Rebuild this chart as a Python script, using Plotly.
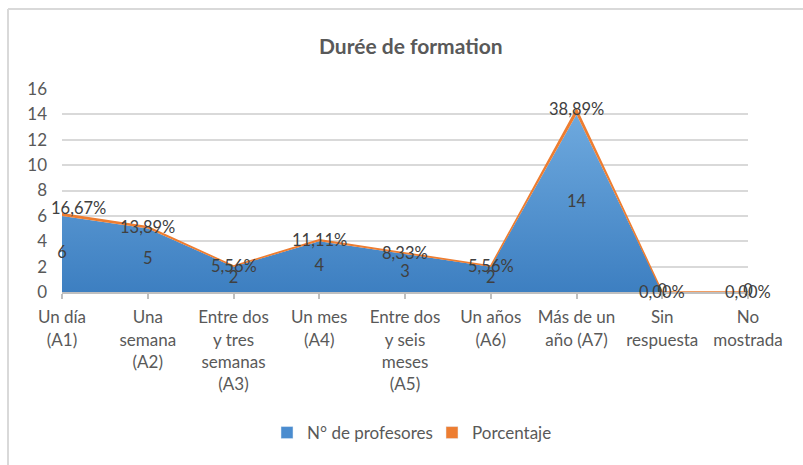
import plotly.graph_objects as go

categories = ["Un día<br>(A1)", "Una<br>semana<br>(A2)", "Entre dos<br>y tres<br>semanas<br>(A3)",
              "Un mes<br>(A4)", "Entre dos<br>y seis<br>meses<br>(A5)", "Un años<br>(A6)",
              "Más de un<br>año (A7)", "Sin<br>respuesta", "No<br>mostrada"]
profesores = [6, 5, 2, 4, 3, 2, 14, 0, 0]
porcentaje = [0.1667, 0.1389, 0.0556, 0.1111, 0.0833, 0.0556, 0.3889, 0.0, 0.0]
y_ticks = [0, 2, 4, 6, 8, 10, 12, 14, 16]

W, H = 803, 465
L, R, T, B = 62, 55, 89, 173
pw, ph = W - L - R, H - T - B

def px_x(px):
    return (px - L) / pw

def px_y(py):
    return (H - B - py) / ph

FONT = "Lato, Open Sans, sans-serif"
GREY = "#595959"
DARK = "#404040"
BLUE = "#4a8ccf"
ORANGE = "#ED7D31"

xs = list(range(len(categories)))

fig = go.Figure()
fig.add_trace(go.Scatter(
    x=xs, y=profesores, name="N° de profesores", stackgroup="s",
    mode="lines", line=dict(width=0, color=BLUE), fillcolor=BLUE,
    fillgradient=dict(type="vertical", colorscale=[[0, "#3d7fc1"], [1, "#6ea9de"]]),
    showlegend=False,
))
fig.add_trace(go.Scatter(
    x=xs, y=porcentaje, name="Porcentaje", stackgroup="s",
    mode="lines", line=dict(width=1.5, color=ORANGE), fillcolor=ORANGE,
    showlegend=False,
))
# count labels, centred in the area
fig.add_trace(go.Scatter(
    x=xs, y=[v / 2 for v in profesores], mode="text", cliponaxis=False,
    text=[str(v) for v in profesores], textposition="middle center",
    textfont=dict(family=FONT, size=16.5, color=DARK), showlegend=False, hoverinfo="skip",
))
# legend entries (square swatches)
fig.add_trace(go.Bar(x=[None], y=[None], name="N° de profesores", marker_color=BLUE))
fig.add_trace(go.Bar(x=[None], y=[None], name="Porcentaje", marker_color=ORANGE))

annotations = []
for i, (c, p) in enumerate(zip(profesores, porcentaje)):
    txt = f"{p * 100:.2f}%".replace(".", ",")
    annotations.append(dict(
        x=i, y=c + p, xref="x", yref="y", text=txt, showarrow=False,
        font=dict(family=FONT, size=16.5, color=DARK),
        xanchor="center", yanchor="middle",
        xshift=16 if i == 0 else 0, yshift=6 if i == 0 else 0,
    ))
annotations.append(dict(
    x=px_x(411), y=px_y(45), xref="paper", yref="paper", text="<b>Durée de formation</b>",
    showarrow=False, font=dict(family=FONT, size=21, color=GREY),
    xanchor="center", yanchor="middle",
))

shapes = [
    dict(type="line", xref="paper", yref="paper", x0=px_x(8), x1=px_x(803),
         y0=px_y(9), y1=px_y(9), line=dict(color="#d9d9d9", width=2)),
    dict(type="line", xref="paper", yref="paper", x0=px_x(8), x1=px_x(8),
         y0=px_y(9), y1=px_y(470), line=dict(color="#d9d9d9", width=2)),
]

fig.update_layout(
    width=W, height=H, margin=dict(l=L, r=R, t=T, b=B, autoexpand=False),
    paper_bgcolor="white", plot_bgcolor="white",
    font=dict(family=FONT, size=17, color=GREY),
    annotations=annotations, shapes=shapes,
    legend=dict(orientation="h", x=px_x(267), xanchor="left", y=px_y(433), yanchor="middle",
                font=dict(family=FONT, size=17, color=GREY), itemwidth=30,
                entrywidth=120, entrywidthmode="pixels",
                traceorder="normal", itemclick=False),
    showlegend=True,
)
fig.update_xaxes(
    range=[0, len(categories) - 1], tickmode="array", tickvals=xs, ticktext=categories,
    showgrid=False, showline=True, linecolor="#bfbfbf", linewidth=2,
    ticks="outside", ticklen=5, tickcolor="#bfbfbf", tickwidth=1.5, ticklabelstandoff=4,
    tickfont=dict(family=FONT, size=17, color=GREY), zeroline=False, automargin=False,
)
fig.update_yaxes(
    range=[0, 16], tickmode="array", tickvals=y_ticks,
    showgrid=True, gridcolor="#d9d9d9", gridwidth=1.5, zeroline=False,
    showline=False, ticks="", ticklabelstandoff=14, automargin=False,
    tickfont=dict(family=FONT, size=17, color=GREY),
)

fig.write_html("out.html", config={"displayModeBar": False},
               post_script="document.body.style.margin='0';")
